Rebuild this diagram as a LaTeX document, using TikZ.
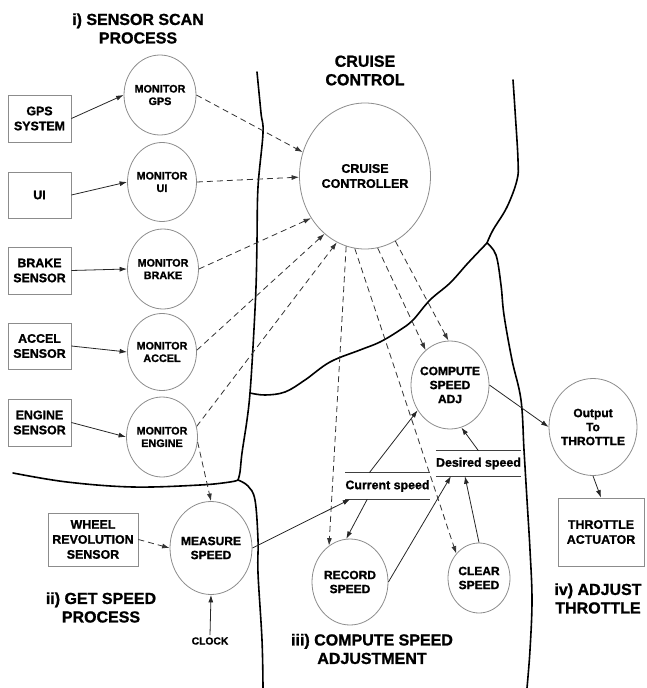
\documentclass[tikz,border=0pt]{standalone}
\usepackage{fontspec}
\setmainfont{Liberation Sans}[BoldFeatures={FakeBold=1.2}]
\usetikzlibrary{shapes.geometric,arrows.meta,calc}

\begin{document}
\begin{tikzpicture}[x=1pt,y=-1pt,
  proc/.style={ellipse, draw=black!45, line width=0.8pt, inner sep=-4pt,
    align=center, font=\bfseries\fontsize{12}{14}\selectfont},
  monitor/.style={proc, minimum width=71pt, minimum height=80pt,
    font=\bfseries\fontsize{10.8}{12.5}\selectfont},
  ext/.style={rectangle, draw=black!45, line width=0.8pt, inner sep=0pt,
    align=center, font=\bfseries\fontsize{12.4}{15}\selectfont},
  store/.style={inner sep=0pt, minimum width=69pt, minimum height=26pt,
    font=\bfseries\fontsize{12.4}{14}\selectfont},
  storeline/.style={line width=1.3pt, draw=black!75},
  heading/.style={align=center, font=\bfseries\fontsize{16}{18.5}\selectfont},
  bound/.style={line width=1.6pt, line join=round, line cap=round},
  flow/.style={line width=0.8pt, draw=black!85, -{Latex[length=7.5pt,width=5pt]}},
  ctrl/.style={flow, dash pattern=on 6pt off 4pt, draw=black!80}
]
\useasboundingbox (0,0) rectangle (646,688);

% process boundaries
\draw[bound] plot[smooth, tension=0.6] coordinates {(257,72) (261,113) (263,133)
  (258,187) (257,240) (256,287) (253,347) (250,393) (247,420) (242,453) (240,472) (238,480)};
\draw[bound] plot[smooth, tension=0.6] coordinates {(13,473) (67,482) (133,487)
  (200,485) (230,482) (238,480)};
\draw[bound] plot[smooth, tension=0.6] coordinates {(238,480) (248,486) (255,500)
  (258,540) (258,573) (262,640) (263,688)};
\draw[bound] plot[smooth, tension=0.6] coordinates {(250,393) (265,395) (285,392)
  (305,380) (330,362) (360,350) (380,342) (400,330) (413,320) (430,300) (450,283)
  (468,263) (487,243)};
\draw[bound] plot[smooth, tension=0.6] coordinates {(513,80) (515,110) (518,160)
  (517,180) (507,207) (493,230) (487,243)};
\draw[bound] plot[smooth, tension=0.6] coordinates {(487,243) (496,255) (501,285)
  (504,315) (512,360) (521,400) (524,450) (527,500) (530,550) (532,600) (530,650) (527,688)};

% headings
\node[heading] (h1) at (138,28.5) {i) SENSOR SCAN\\PROCESS};
\node[heading] (h2) at (365,70.5) {CRUISE\\CONTROL};
\node[heading] (h3) at (101,607.5) {ii) GET SPEED\\PROCESS};
\node[heading] (h4) at (372,649) {iii) COMPUTE SPEED\\ADJUSTMENT};
\node[heading] (h5) at (598,598.5) {iv) ADJUST\\THROTTLE};

% external entities
\node[ext, minimum width=63pt, minimum height=47pt] (gpsbox) at (39.5,118.5) {GPS\\SYSTEM};
\node[ext, minimum width=63pt, minimum height=46pt] (uibox) at (39.5,195) {UI};
\node[ext, minimum width=63pt, minimum height=47pt] (brakebox) at (39.5,270.5) {BRAKE\\SENSOR};
\node[ext, minimum width=63pt, minimum height=46pt] (accelbox) at (39.5,346) {ACCEL\\SENSOR};
\node[ext, minimum width=63pt, minimum height=47pt] (enginebox) at (39.5,422.5) {ENGINE\\SENSOR};
\node[ext, minimum width=90pt, minimum height=53pt] (wheel) at (93,539.5) {WHEEL\\REVOLUTION\\SENSOR};
\node[ext, minimum width=86pt, minimum height=68pt] (act) at (601,532) {THROTTLE\\ACTUATOR};
\node[font=\bfseries\fontsize{10.3}{12}\selectfont, inner sep=2pt] (clock) at (210,641) {CLOCK};

% processes
\node[monitor, minimum width=72pt] (mgps) at (160,95) {MONITOR\\GPS};
\node[monitor, minimum width=69pt, minimum height=79pt] (mui) at (162,182) {MONITOR\\UI};
\node[monitor] (mbrake) at (163,269) {MONITOR\\BRAKE};
\node[monitor, minimum width=69pt, minimum height=77pt] (maccel) at (162,352) {MONITOR\\ACCEL};
\node[monitor] (mengine) at (162,437) {MONITOR\\ENGINE};
\node[proc, minimum width=131pt, minimum height=146pt,
  font=\bfseries\fontsize{12.5}{15}\selectfont] (cc) at (365,176) {CRUISE\\CONTROLLER};
\node[proc, minimum width=82pt, minimum height=93pt] (measure) at (211,548) {MEASURE\\SPEED};
\node[proc, minimum width=78pt, minimum height=88pt] (compute) at (450,385) {COMPUTE\\SPEED\\ADJ};
\node[proc, minimum width=88pt, minimum height=97pt] (output) at (593,427) {Output\\To\\THROTTLE};
\node[proc, minimum width=76pt, minimum height=86pt] (record) at (350,582) {RECORD\\SPEED};
\node[proc, minimum width=62pt, minimum height=70pt] (clear) at (479,578) {CLEAR\\SPEED};

% data stores
\node[store] (cur) at (387.5,486) {Current speed};
\node[store, minimum height=25pt] (des) at (478.5,463.5) {Desired speed};
\draw[storeline] (cur.north west) -- (cur.north east);
\draw[storeline] (cur.south west) -- (cur.south east);
\draw[storeline] (des.north west) -- (des.north east);
\draw[storeline] (des.south west) -- (des.south east);

% sensor inputs
\draw[flow] (gpsbox.east) -- (mgps.west);
\draw[flow] (uibox.east) -- (mui.west);
\draw[flow] (brakebox.east) -- (mbrake.west);
\draw[flow] (accelbox.east) -- (maccel.west);
\draw[flow] (enginebox.east) -- (mengine.west);

% monitored events to the controller
\draw[ctrl] (mgps.east) -- (cc.159);
\draw[ctrl] (mui.east) -- (cc.181);
\draw[ctrl] (mbrake.east) -- (cc.218);
\draw[ctrl] (maccel.3) -- (cc.235);
\draw[ctrl] (mengine.17) -- (cc.247);

% speed measurement
\draw[ctrl] (mengine.-8) -- (measure.north);
\draw[ctrl] (wheel.east) -- (measure.west);
\draw[flow] (clock.north) -- (measure.south);
\draw[flow] (measure.east) -- ([xshift=5pt]cur.south west);

% controller commands
\draw[ctrl] (cc.-105) -- (record.120);
\draw[ctrl] (cc.-98) -- (clear.133);
\draw[ctrl] (cc.-80) -- (compute.125);
\draw[ctrl] (cc.-65) -- (compute.92);

% speed adjustment data flows
\draw[flow] ([xshift=22pt]cur.south west) -- (record.95);
\draw[flow] ([xshift=24pt]cur.north west) -- (compute.218);
\draw[flow] (record.east) -- ([xshift=15pt]des.south west);
\draw[flow] (clear.north) -- ([xshift=29pt]des.south west);
\draw[flow] (des.north) -- (compute.-75);
\draw[flow] (compute.east) -- (output.west);
\draw[flow] (output.south) -- (act.north);
\end{tikzpicture}
\end{document}
